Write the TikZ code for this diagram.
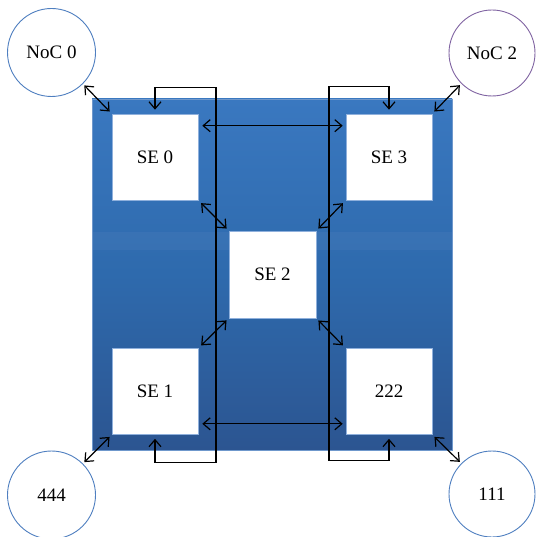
\documentclass[tikz,border=0pt]{standalone}
\usepackage{fontspec}
\setmainfont{Liberation Serif}
\usetikzlibrary{arrows.meta,calc}
\definecolor{paneltop}{HTML}{3A78C0}
\definecolor{panelmid}{HTML}{2E6AAD}
\definecolor{panelbot}{HTML}{2C5591}
\definecolor{paneledge}{HTML}{6F98CC}
\definecolor{boxedge}{HTML}{8FB0DC}
\definecolor{ringblue}{HTML}{4F7FC0}
\definecolor{ringpurple}{HTML}{8064A2}
\begin{document}
\begin{tikzpicture}[x=1pt,y=-1pt,
  label font/.style={font=\fontsize{19}{22}\selectfont},
  sebox/.style={draw=boxedge, line width=0.6pt, fill=white, minimum width=86pt,
    minimum height=86pt, inner sep=0pt, label font},
  noc/.style={circle, draw=ringblue, line width=0.9pt, fill=white,
    minimum size=88pt, inner sep=0pt, label font},
  link/.style={line width=1.2pt, {Straight Barb[length=7pt,width=12pt]}-{Straight Barb[length=7pt,width=12pt]}}
]
\useasboundingbox (0,0) rectangle (535,537);

% chip panel with vertical gradient
\shade[top color=paneltop, bottom color=panelbot, middle color=panelmid]
  (92,99) rectangle (452,450);
\fill[white, opacity=0.04] (92,232) rectangle (452,250);
\draw[paneledge, line width=0.7pt] (92,99) rectangle (452,450);

% processing elements
\node[sebox] (se0) at (155,157) {SE 0};
\node[sebox] (se3) at (389,157) {SE 3};
\node[sebox, minimum width=87pt, minimum height=87pt] (se2) at (272.5,274.5) {SE 2};
\node[sebox] (se1) at (155,391.5) {SE 1};
\node[sebox] (s222) at (389,391.5) {222};

% network controllers at the corners
\node[noc] (noc0) at (51.5,52.5) {NoC 0};
\node[noc, draw=ringpurple, minimum size=86pt] (noc2) at (492,53) {NoC 2};
\node[noc] (c444) at (51.5,495) {444};
\node[noc, minimum size=86pt] (c111) at (492,494) {111};

% vertical buses
\coordinate (busL) at (216,0);
\coordinate (busR) at (329,0);
\draw[link] ([yshift=4pt]se0.north) |- ([yshift=26pt]se0.north -| busL)
  -- ([yshift=-28pt]se1.south -| busL) -| ([yshift=-4pt]se1.south);
\draw[link] ([yshift=4pt]se3.north) |- ([yshift=27pt]se3.north -| busR)
  -- ([yshift=-26pt]s222.south -| busR) -| ([yshift=-4pt]s222.south);

% horizontal links
\draw[link, shorten <=4pt, shorten >=3pt] ([yshift=-12pt]se0.north east) -- ([yshift=-12pt]se3.north west);
\draw[link, shorten <=4pt, shorten >=3pt] ([yshift=11pt]se1.south east) -- ([yshift=11pt]s222.south west);

% diagonal links
\draw[link, shorten <=2pt, shorten >=3pt] (noc0.south east) -- (se0.north west);
\draw[link, shorten <=2pt, shorten >=3pt] (noc2.south west) -- (se3.north east);
\draw[link, shorten <=2pt, shorten >=3pt] (c444.north east) -- (se1.south west);
\draw[link, shorten <=2pt, shorten >=3pt] (c111.north west) -- (s222.south east);
\draw[link, shorten <=4pt, shorten >=3pt] (se0.south east) -- (se2.north west);
\draw[link, shorten <=4pt, shorten >=3pt] (se3.south west) -- (se2.north east);
\draw[link, shorten <=4pt, shorten >=3pt] (se1.north east) -- (se2.south west);
\draw[link, shorten <=4pt, shorten >=3pt] (s222.north west) -- (se2.south east);
\end{tikzpicture}
\end{document}
